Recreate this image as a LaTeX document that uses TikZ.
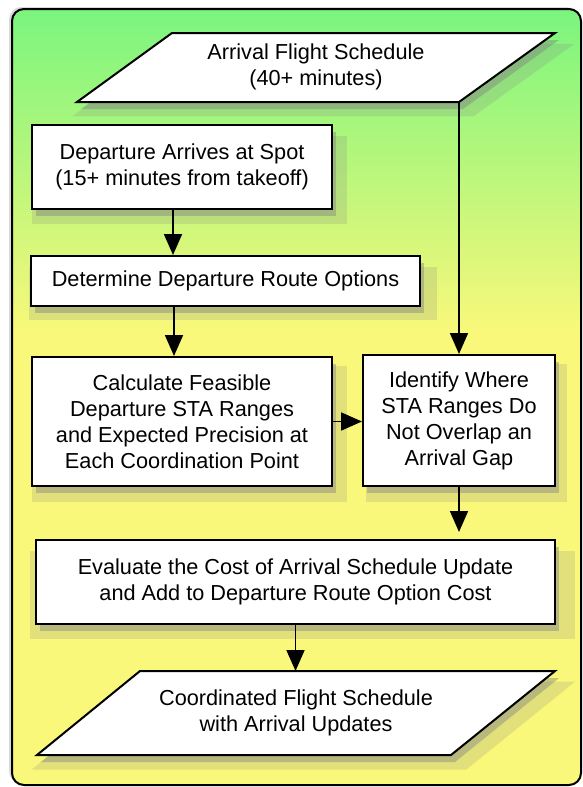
\documentclass[tikz,border=0pt]{standalone}
\usepackage{fontspec}
\setmainfont{Liberation Sans}
\usepackage{xcolor}
\usepackage{tikz}
\usetikzlibrary{arrows.meta,shadows}

\definecolor{bggreen}{RGB}{122,245,126}
\definecolor{bgyellow}{RGB}{250,248,122}
\pgfdeclareverticalshading{bgfade}{100bp}{color(0bp)=(bgyellow); color(54bp)=(bgyellow); color(75bp)=(bggreen); color(100bp)=(bggreen)}

\begin{document}
\begin{tikzpicture}[x=1pt,y=-1pt,
	softshadow/.style={drop shadow={shadow xshift=7pt,shadow yshift=-12pt,opacity=.2,shadow scale=1.05},
		drop shadow={shadow xshift=4pt,shadow yshift=-7pt,opacity=.42}},
	box/.style={draw,line width=2pt,fill=white,align=center,inner sep=0pt,softshadow},
	para/.style={draw,line width=2pt,fill=white,softshadow},
	flow/.style={line width=1.8pt,-{Triangle[length=21pt,width=18pt]}},
	every node/.style={font=\fontsize{21.7pt}{26pt}\selectfont}]
	\useasboundingbox (0,0) rectangle (583,787);
	\draw[line width=2pt,rounded corners=12pt,shade,shading=bgfade,
		drop shadow={shadow xshift=-3pt,shadow yshift=2pt,opacity=.3}] (12,9) rectangle (581,785);
	
	% inputs and outputs
	\draw[para] (172,33) -- (555,33) -- (459,102) coordinate (arrcorner) -- (77,102) -- cycle;
	\node[align=center] (arr) at (316,67) {Arrival Flight Schedule\\(40+ minutes)};
	\draw[para] (140,671) -- (555,671) -- (451,755) -- (37,755) -- cycle;
	\coordinate (coordtop) at (295.5,671);
	\node[align=center] (coord) at (296,713) {Coordinated Flight Schedule\\with Arrival Updates};
	
	% steps
	\node[box,minimum width=300pt,minimum height=84pt] (dep) at (182,167) {Departure Arrives at Spot\\(15+ minutes from takeoff)};
	\node[box,minimum width=389pt,minimum height=50pt] (route) at (225.5,281) {Determine Departure Route Options};
	\node[box,minimum width=300pt,minimum height=129pt] (calc) at (182,421.5) {Calculate Feasible\\Departure STA Ranges\\and Expected Precision at\\Each Coordination Point};
	\node[box,minimum width=192pt,minimum height=131pt] (ident) at (459,420.5) {Identify Where\\STA Ranges Do\\Not Overlap an\\Arrival Gap};
	\node[box,minimum width=519pt,minimum height=84pt] (eval) at (295.5,582) {Evaluate the Cost of Arrival Schedule Update\\and Add to Departure Route Option Cost};
	
	\draw[flow] ([xshift=-9pt]dep.south) -- ([xshift=-9pt]dep.south |- route.north);
	\draw[flow] ([xshift=-8pt]calc.north |- route.south) -- ([xshift=-8pt]calc.north);
	\draw[flow] (arrcorner) -- (ident.north);
	\draw[flow] (calc.east) -- (calc.east -| ident.west);
	\draw[flow,shorten >=7pt] (ident.south) -- (ident.south |- eval.north);
	\draw[flow] (eval.south) -- (coordtop);
\end{tikzpicture}
\end{document}
